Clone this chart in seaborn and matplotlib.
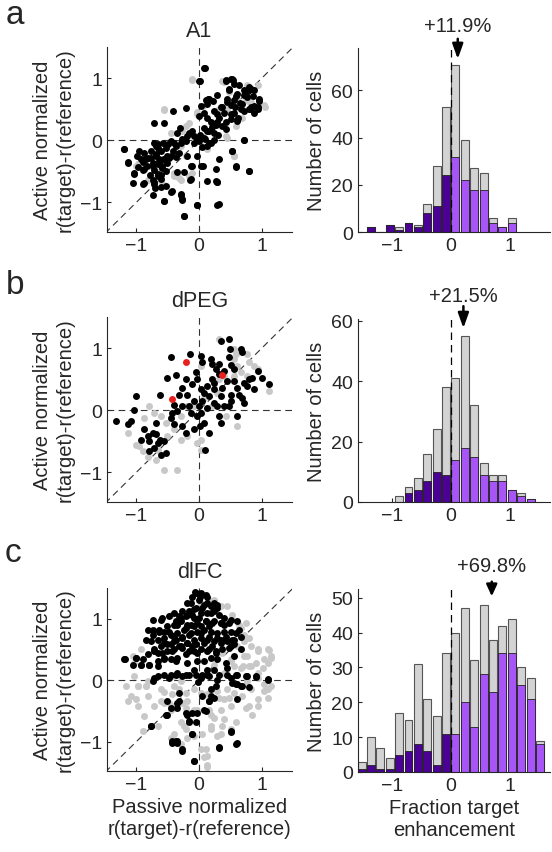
import matplotlib
matplotlib.use('Agg')
import matplotlib.pyplot as plt
import pandas as pd
import seaborn as sns

sns.set_style('ticks')
plt.rcParams['font.family'] = ['Liberation Sans', 'DejaVu Sans']
plt.rcParams['axes.unicode_minus'] = True

# ---- scatter data: (passive, active) pairs ----
a_black_x = [0.09, 0.01, 0.43, 0.52, 0.54, 0.47, 0.64, 0.80, 0.78, 0.59, 0.72, 0.86, 0.14, 0.22, 0.45, 0.36,
             0.51, 0.57, 0.65, 0.94, 0.96, 0.82, 0.87, 0.81, 0.62, 0.72, -0.21, -0.42, -0.56, 0.12, 0.23, 0.29,
             0.39, 0.32, 0.43, 0.37, 0.51, -0.01, 0.13, 0.19, 0.27, 0.07, 0.15, 0.24, 0.02, 0.09, 0.16, 0.24,
             0.30, -0.04, -0.12, -0.19, -0.27, -0.35, -0.30, -0.40, -0.49, -0.57, -0.66, -0.09, 0.04, 0.72,
             0.52, 0.59, 0.80, 0.31, 0.06, -0.12, -0.25, -0.14, 0.12, 0.27, 0.28, -0.29, -0.27, -0.56, -0.04,
             0.31, -0.25, -0.37, -0.45, -0.51, -0.59, -0.61, -0.72, -0.71, -0.45, -0.61, -1.20, -1.14, -1.04,
             -0.99, -0.93, -0.90, -0.84, -0.81, -0.79, -0.74, -0.72, -0.69, -0.66, -0.64, -0.60, -0.56, -0.53,
             -0.77, -0.69, -0.88, -0.96, -0.66, -0.74, -0.51, -0.42, -0.32, -0.19, -0.03, -0.72, -0.88, -1.06,
             0.03, 0.08, 0.51, 0.56, 0.66, 0.88,
             0.08, 0.00, 0.51, 0.43, 0.56, 0.48, 0.61, 0.72, 0.82, 0.88, 0.77, 0.96, 0.93, 0.80, 0.69, 0.56,
             0.45, 0.35, 0.29, 0.16, 0.11, 0.61, 0.43, 0.29, 0.21, 0.13, 0.08, 0.00, 0.19, 0.13, -0.08, -0.16,
             -0.21, -0.29, -0.37, -0.45, -0.53, -0.61, -0.69, -0.77, -0.85, -0.90, -0.98, -0.88, -0.74, -0.64,
             -0.56, -0.48, -0.66, -0.61, -0.72, -0.53, -1.20, -1.14, -1.04, -0.90, -0.74, -0.56, -0.29, -0.27,
             -0.04, 0.29, -0.24, -0.13, 0.03, 0.27, 0.29, 0.59, 0.80, 0.53, 0.72, -0.13, -0.35, -0.43, -0.72,
             -0.66]
a_black_y = [1.16, 0.96, 0.97, 0.99, 0.97, 0.82, 0.88, 0.85, 0.79, 0.71, 0.72, 0.71, 0.67, 0.63, 0.66, 0.54,
             0.56, 0.54, 0.59, 0.50, 0.63, 0.54, 0.44, 0.50, 0.36, 0.47, 0.52, 0.47, 0.27, 0.58, 0.47, 0.42,
             0.44, 0.35, 0.29, 0.23, 0.42, 0.39, 0.36, 0.29, 0.25, 0.20, 0.15, 0.12, 0.09, 0.02, -0.04, 0.01,
             0.08, 0.04, 0.15, 0.06, 0.02, 0.12, 0.20, -0.04, -0.07, -0.05, -0.06, -0.05, -0.11, 0.00,
             -0.18, -0.42, -0.49, -0.30, -0.41, -0.41, -0.52, -0.64, -0.66, -0.66, -0.68, -0.87, -0.95, -0.98,
             -1.05, -1.03, -1.23, -0.27, -0.26, -0.37, -0.45, -0.56, -0.68, -0.77, -0.83, -0.76, -0.15, -0.37,
             -0.53, -0.26, -0.31, -0.48, -0.42, -0.29, -0.56, -0.37, -0.48, -0.25, -0.39, -0.31, -0.42, -0.31,
             -0.50, -0.18, -0.10, -0.21, -0.18, -0.58, -0.64, -0.26, -0.18, -0.21, -0.26, -0.26, 0.27, -0.69,
             -0.69, 0.55, 0.44, 0.34, 0.44, 0.50, 0.55,
             1.16, 0.96, 0.99, 0.96, 0.91, 0.80, 0.75, 0.80, 0.83, 0.80, 0.69, 0.66, 0.53, 0.50, 0.58, 0.64,
             0.61, 0.53, 0.72, 0.66, 0.64, 0.31, 0.18, 0.29, 0.21, 0.15, 0.04, -0.01, -0.04, -0.09, 0.07, 0.12,
             -0.01, -0.04, -0.09, -0.01, -0.12, -0.17, -0.23, -0.28, -0.30, -0.36, -0.44, -0.47, -0.42, -0.36,
             -0.30, -0.28, -0.55, -0.63, -0.71, -0.74, -0.15, -0.36, -0.55, -0.71, -0.88, -0.98, -0.88, -0.96,
             -1.05, -1.04, -1.23, -0.42, -0.42, -0.47, -0.68, -0.44, -0.50, -0.17, 0.01, -0.63, -0.52, -0.82, -0.04,
             -0.12]
a_gray_x = [-0.12, 0.37, 0.93, 1.05, -0.56, 0.06, -0.03, -0.21, -0.27, -0.16, 0.45, 0.56, 0.59, 0.69, 0.78,
            0.13, 0.05, -0.29, -0.40, -0.21, -0.29, -0.40, -0.66, -0.77, -0.96, -1.01, -0.82, -0.61, -0.56,
            -0.16, -0.11, 0.61, 0.74, 0.82, 0.32, 0.48, 0.45,
            -0.11, 0.40, 0.77, 1.04, -0.56, -0.45, -0.03, 0.43, 0.56, 0.61, -0.35, -0.40, -0.32, -0.98, -0.77]
a_gray_y = [0.97, 0.96, 0.89, 0.54, 0.50, 0.55, 0.42, 0.23, 0.15, 0.28, 0.04, -0.26, 0.23, 0.36, 0.63,
            -0.15, -0.10, -0.10, -0.21, -0.26, -0.64, -0.53, -0.50, -0.42, -0.37, -0.42, -0.64, -0.66, -0.72,
            -0.58, -0.53, 0.66, 0.66, 0.61, 0.50, 0.77, 0.50,
            0.98, 0.94, 0.88, 0.56, 0.48, 0.12, 0.45, 0.07, -0.25, 0.34, -0.52, -0.58, -0.61, -0.39, -0.58]

b_black_x = [-1.32, -1.14, -1.09, -1.00, -1.04, -0.88, -0.82, -0.93, -0.80, -0.74, -0.69, -0.66, -0.62, -0.80,
             -0.72, -0.61, -0.53, -0.56, -0.69, -0.62, -0.52, -0.45, -0.37, -0.40, -0.32, -0.27, -0.21, -0.14,
             -0.05, 0.03, 0.05, -0.03, -0.11, -0.19, -0.27, -0.35, -0.43, -0.45, -0.40, -0.27, -0.21, -0.08,
             0.02, 0.08, 0.16, 0.09, -0.03, -0.13, 0.03, 0.13, 0.24, 0.35, 0.35, 0.19, 0.21, 0.27, 0.32, 0.24,
             0.13, 0.08, 0.05, 0.16, 0.35, 0.48, 0.49, 0.66, 0.68, 0.48, 0.51, 0.40, 0.45, 0.56, 0.61, 0.72,
             0.80, 0.85, 0.94, 1.00, 1.12, 0.64, 0.69, 0.51, 0.37, 0.29, 0.40, 0.48, 0.61, 0.32, 0.24, 0.03,
             -0.08, -0.16, 0.00, 0.88, 0.77, 0.56, 0.32, 0.20, 0.51, 0.72]
b_black_y = [-0.17, -0.23, -0.18, 0.22, 0.01, -0.31, -0.42, -0.48, -0.50, -0.37, -0.39, -0.53, -0.48, -0.66,
             -0.61, -0.72, -0.69, -0.50, -0.21, 0.24, 0.52, 0.85, 0.56, 0.09, 0.25, 0.36, 0.50, 0.90,
             0.61, 0.87, 0.77, 0.50, 0.42, 0.25, 0.06, -0.02, -0.04, -0.12, -0.23, -0.26, -0.37, -0.31,
             -0.26, -0.21, -0.37, -0.64, -0.10, -0.04, -0.04, 0.04, 0.12, 0.23, -0.21, 0.82, 0.74, 0.66, 0.58, 0.44,
             0.39, 0.28, 0.15, 0.23, 1.12, 1.15, 0.98, 0.98, 0.93, 0.85, 0.72, 0.63, 0.47, 0.47, 0.36, 0.44,
             0.50, 0.51, 0.63, 0.51, 0.42, 0.25, 0.20, 0.25, 0.36, 0.06, 0.06, 0.06, -0.10, -0.10, 0.34, 0.34,
             0.15, 0.06, 0.06, 0.34, 0.39, 0.66, 0.74, 0.50, 0.15, 0.12]
b_gray_x = [-1.14, -1.01, -0.96, -0.90, -0.82, -0.69, -0.56, -0.36, -0.66, -0.51, -0.40, -0.53, -0.61, -0.72,
            -0.80, -0.88, -0.29, -0.19, 0.03, -0.03, -0.08, -0.19, -0.29, 0.32, 0.56, 0.59, 0.77, 0.80, 0.88,
            0.93, 0.56, 0.61, 0.66, 0.40, 0.32, 0.56, 0.77, 1.12, 0.43, 0.60, 0.21, 0.08, 0.29, 0.03, 0.03]
b_gray_y = [-0.37, -0.56, -0.58, -0.66, -0.75, -0.80, -0.96, -0.96, -0.64, -0.42, -0.31, -0.21, -0.10, -0.04,
            0.06, -0.12, -0.48, -0.42, -0.64, -0.53, 0.06, 0.06, -0.10, 1.14, 0.98, 0.90, 0.90, 0.77, 0.71,
            0.66, 0.82, 0.71, 0.61, 0.55, 0.50, 0.55, 0.55, 0.31, -0.10, -0.26, 0.06, 0.20, 0.28, 0.71, -0.48]
b_red_x = [-0.21, -0.44, 0.37]
b_red_y = [0.78, 0.18, 0.56]

c_black_x = [-0.06, 0.03, -0.11, 0.00, 0.13, -0.19, 0.24, 0.08, -0.05, -0.16, -0.27, -0.40, -0.48, -0.59,
             -0.74, -0.82, -0.73, -0.64, -0.56, -0.51, -0.40, -0.29, -0.21, -0.11, 0.03, 0.13, 0.24, 0.32,
             0.40, 0.51, 0.61, 0.35, 0.24, 0.11, -0.03, -0.13, -0.24, -0.35, -0.45, -0.56, -0.66, -0.77,
             -0.85, -0.61, -0.51, -0.40, -0.27, -0.16, -0.03, 0.08, 0.19, 0.29, 0.40, 0.51, 0.64, 0.66,
             0.56, 0.45, 0.35, 0.24, 0.13, 0.03, -0.08, -0.19, -0.29, -0.40, -0.51, -0.66, -0.72, -0.82,
             -0.90, -1.01, -1.19, -1.06, -0.93, -0.80, -0.66, -0.56, -0.45, -0.35, -0.21, -0.08, 0.03, 0.16,
             0.27, 0.37, 0.51, 0.56, 0.19, 0.08, -0.03, 0.29, -0.19, -0.66, -0.56, -0.45, -0.37, -0.27,
             -0.74, -0.16, -0.05, 0.05, 0.16, 0.32, 0.45, 0.59, 0.74, 0.90, 1.09, 0.53, 0.61, 0.66, 0.61,
             0.24, 0.16, 0.05, 0.08, 0.29, -0.32, -0.35, -0.51, -0.21, -0.11, -0.05, -0.16, -0.77, -0.43,
             -0.37, -0.35, -0.27, -0.12, 0.51, 0.60, 0.32, -0.08, 0.19, -0.02, 0.13, 0.45, 0.56, 0.66, 0.59,
             0.19, 0.29, 0.40, -0.08, -0.19, -0.32, 0.03, 0.16, -0.37, -0.27, -0.11,
             -0.05, 0.02, -0.13, 0.13, 0.11, -0.08, 0.05, 0.19, 0.29, -0.19, -0.29, -0.37, -0.61, 0.00, 0.11,
             0.21, 0.35, 0.48, -0.08, -0.21, -0.35, -0.48, -0.64, -0.74, -0.40, -0.27, -0.13, 0.03, 0.16,
             0.29, 0.43, 0.53, -0.56, -0.45, -0.32, -0.19, -0.05, 0.08, 0.21, 0.35, 0.48, -0.72, -0.59,
             -0.43, -0.16, -0.03, 0.13, 0.27, -1.20, -1.01, -0.93, -0.80, -0.66, -0.56, -0.37, 0.43, -0.72,
             -0.48, -0.35, -0.21, -0.08, 0.03, 0.13, 0.24, 0.51, 0.61, 0.77, 0.90, 1.09, 0.59, 0.69, 0.80,
             0.27, 0.19, 0.16, -0.51, -0.32, -0.45, -0.35, -0.53, -0.19, -0.03, 0.11, -0.16, -0.77, -0.11,
             -0.43, -0.35, -0.27, 0.32, 0.51, 0.59, -0.08]
c_black_y = [1.44, 1.42, 1.36, 1.31, 1.36, 1.25, 1.25, 1.23, 1.17, 1.12, 1.12, 1.09, 1.04, 1.01,
             0.98, 0.82, 0.82, 0.82, 0.79, 0.88, 0.90, 0.96, 1.04, 1.06, 1.09, 1.09, 1.12, 1.06,
             1.01, 0.98, 0.96, 0.93, 0.96, 0.96, 0.93, 0.90, 0.82, 0.77, 0.74, 0.69, 0.66, 0.63,
             0.66, 0.55, 0.58, 0.63, 0.69, 0.74, 0.79, 0.82, 0.79, 0.77, 0.79, 0.79, 0.82, 0.71,
             0.66, 0.63, 0.66, 0.63, 0.66, 0.69, 0.66, 0.61, 0.55, 0.50, 0.47, 0.44, 0.50, 0.42,
             0.34, 0.36, 0.35, 0.25, 0.25, 0.25, 0.31, 0.36, 0.34, 0.36, 0.42, 0.47, 0.50, 0.50,
             0.47, 0.50, 0.55, 0.58, 0.36, 0.31, 0.31, 0.34, 0.28, 0.06, 0.09, 0.08, 0.09, 0.06,
             -0.02, 0.09, 0.09, 0.08, 0.06, 0.09, 0.08, 0.09, 0.06, 0.05, 0.02, -0.04, -0.07, -0.10, -0.31,
             -0.29, -0.34, -0.26, -0.48, 0.01, -0.21, -0.37, -0.56, -0.53, -0.53, -0.69, -0.69, -0.75, -0.99,
             -0.99, -1.02, -1.12, -0.88, -0.83, -1.02, -1.09, -1.31, -0.15, -0.03, 0.17, 0.20, 0.39, 0.50, 0.77,
             1.20, 1.17, 0.90, 1.01, 0.90, 1.04, 0.88, 0.88, 0.66, 0.52, 0.55,
             1.42, 1.36, 1.25, 1.25, 1.39, 1.15, 1.17, 1.09, 1.23, 1.06, 1.01, 0.96, 0.98, 1.01, 0.96,
             0.93, 0.93, 0.93, 0.88, 0.85, 0.90, 0.79, 0.79, 0.74, 0.71, 0.71, 0.77, 0.77, 0.71,
             0.69, 0.71, 0.66, 0.61, 0.58, 0.55, 0.61, 0.58, 0.61, 0.55, 0.61, 0.52, 0.47, 0.44,
             0.47, 0.47, 0.44, 0.47, 0.44, 0.34, 0.36, 0.25, 0.25, 0.23, 0.34, 0.31, 0.28, 0.04,
             0.04, 0.12, 0.09, 0.17, 0.04, 0.09, 0.17, 0.04, 0.09, 0.06, 0.06, 0.01, -0.07, -0.10, -0.12,
             -0.10, -0.26, -0.34, -0.34, -0.34, -0.45, -0.45, -0.56, -0.56, -0.53, -0.50, -0.66, -0.75, -0.88,
             -1.02, -0.99, -1.15, -1.10, -0.85, -1.04, -1.31]
c_gray_x = [0.24, 0.35, 0.53, 0.74, 0.66, 0.80, 0.82, 0.72, 0.93, 1.09, 1.14, 1.04, 0.90, 0.77, 0.80,
            0.66, 0.93, 1.04, 1.09, 0.82, 0.93, 0.80, 0.69, 0.56, 0.51, 0.35, 0.40, 0.24, 0.19, 0.29,
            0.05, 0.11, 0.08, 0.13, 0.03, -0.08, -0.21, -0.29, -0.45, -0.48, -0.61, -0.72, -0.88, -0.90,
            -0.98, -1.09, -1.14, -1.17, -0.98, -0.85, -0.61, -0.40, -0.21, -0.19, -0.08, 0.03, 0.13, 0.29,
            0.40, 0.16, -0.03, -0.29, -0.82, -1.04, -1.06, -0.93, -0.19, -0.40, 0.51, 0.56, 0.77, 0.16, 0.03,
            0.45, 0.64, 0.72, 0.93, 1.12, 1.14, 1.09, 1.01, 0.82, 0.72, 0.70, 0.93, 1.14, 1.04, 1.09, 0.93,
            0.74, 0.85, 0.59, 0.37, 0.19, 0.35, 0.51, 0.13, 0.13, 0.19, 0.32, 0.48, 0.45, 0.40, 0.24, 0.37,
            0.51, 0.61, -0.98, -0.85, -1.01, -0.82, -0.56, -0.43, -0.32, -0.27, -0.40, -0.56, -0.21, -0.16,
            -0.08, -0.24, -0.45, -0.29, -0.66, -0.40, -1.04, -0.45, -0.37, -0.13]
c_gray_y = [1.31, 1.20, 1.06, 0.93, 0.85, 0.69, 0.55, 0.63, 0.50, 0.50, 0.39, 0.34, 0.28, 0.39, 0.23,
            0.20, 0.12, -0.07, -0.15, -0.15, -0.31, -0.42, -0.26, -0.21, -0.42, -0.48, -0.64, -0.61, -0.80, -0.91,
            -0.88, -1.12, -1.26, -1.42, -1.12, -0.91, -0.80, -0.69, -0.48, -0.37, -0.34, -0.42, -0.58, -0.83,
            -0.42, -0.26, -0.34, -0.10, -0.10, -0.10, -0.15, -0.10, -0.21, -0.34, -0.15, -0.21, -0.23, -0.18,
            -0.31, -0.48, -0.48, -0.02, -0.02, 0.06, 0.39, 0.50, -0.94, -0.88, 0.34, 0.23, -0.02, 1.31, 1.25,
            1.20, 0.90, 0.74, 0.47, 0.49, 0.36, 0.28, 0.20, 0.23, 0.39, 0.23, 0.04, -0.10, -0.18, -0.29, -0.42,
            -0.45, -0.56, -0.69, -0.75, -0.75, -0.88, -0.80, -1.23, -1.39, -0.56, -0.29, -0.29, -0.15, 0.12,
            0.25, 0.44, 0.31, 0.55, -0.10, -0.10, -0.31, -0.26, -0.20, -0.23, -0.15, -0.37, -0.42, -0.37,
            -0.45, -0.53, -0.48, -0.75, -0.94, -1.04, -0.75, 0.06, 0.28, 1.06, 0.96, 0.77]

# ---- histogram data: bin index k (bin centre = (k + 0.5) * width) ----
bin_w = 0.16
a_bins = list(range(-9, 7))
a_colored = [2, 0, 3, 1, 4, 2, 8, 11, 24, 32, 22, 18, 18, 4, 2, 4]
a_total = [2, 0, 3, 2, 4, 3, 12, 28, 53, 71, 39, 27, 25, 6, 2, 6]
b_bins = list(range(-6, 9))
b_colored = [0, 3, 4, 7, 10, 9, 14, 18, 15, 9, 7, 7, 4, 2, 1]
b_total = [2, 5, 8, 16, 24, 38, 41, 55, 32, 13, 9, 9, 4, 3, 1]
c_bins = list(range(-10, 10))
c_colored = [1, 2, 1, 1, 5, 6, 8, 6, 2, 11, 11, 20, 13, 28, 23, 34, 34, 25, 21, 8]
c_total = [3, 10, 7, 4, 17, 15, 31, 21, 16, 34, 40, 47, 32, 48, 38, 42, 44, 30, 27, 9]

regions = ['A1', 'dPEG', 'dlFC']
letters = ['a', 'b', 'c']
enhancement = [11.9, 21.5, 69.8]
hist_ylim = [78, 60.5, 52.5]
hist_yticks = [[0, 20, 40, 60], [0, 20, 40, 60], [0, 10, 20, 30, 40, 50]]

dark_purple = '#4B0096'
light_purple = '#A855F7'
bar_gray = '#D3D3D3'

fig = plt.figure(figsize=(5.52, 8.53), dpi=100)
W, H = 552.0, 853.0
# axes boxes in pixels: (left, top, right, bottom)
scatter_boxes = [(107, 48, 292, 233), (107, 318, 292, 503), (107, 589, 292, 772)]
hist_boxes = [(358, 49, 550, 233), (358, 320, 550, 503), (358, 590, 550, 773)]
letter_pos = [(15, 15), (15, 285), (13, 554)]


def box(b):
    l, t, r, bt = b
    return [l / W, 1 - bt / H, (r - l) / W, (bt - t) / H]


scatter_data = [
    (a_black_x, a_black_y, a_gray_x, a_gray_y, None, None),
    (b_black_x, b_black_y, b_gray_x, b_gray_y, b_red_x, b_red_y),
    (c_black_x, c_black_y, c_gray_x, c_gray_y, None, None),
]
hist_data = [(a_bins, a_colored, a_total), (b_bins, b_colored, b_total), (c_bins, c_colored, c_total)]
dash = (0, (6, 4))

for i in range(3):
    # Scatter panel
    ax = fig.add_axes(box(scatter_boxes[i]))
    bx, by, gx, gy, rx, ry = scatter_data[i]
    ax.axhline(0, color='#333333', ls=dash, lw=0.8, zorder=1)
    ax.axvline(0, color='#333333', ls=dash, lw=0.8, zorder=1)
    ax.plot([-1.5, 1.5], [-1.5, 1.5], color='#333333', ls=dash, lw=0.8, zorder=1)
    sns.scatterplot(x=gx, y=gy, color='#C8C8C8', s=25, linewidth=0, ax=ax, zorder=2)
    sns.scatterplot(x=bx, y=by, color='black', s=25, linewidth=0, ax=ax, zorder=3)
    if rx is not None:
        sns.scatterplot(x=rx, y=ry, color='#E8201E', s=25, linewidth=0, ax=ax, zorder=4)
    ax.set_xlim(-1.47, 1.48)
    ax.set_ylim(-1.48, 1.5)
    ax.set_xticks([-1, 0, 1])
    ax.set_yticks([-1, 0, 1])
    ax.tick_params(direction='in', labelsize=14, length=3)
    sns.despine(ax=ax)
    ax.set_title(regions[i], fontsize=15.5, pad=8)
    ax.set_ylabel('Active normalized\nr(target)-r(reference)', fontsize=14.5, labelpad=4)
    if i == 2:
        ax.set_xlabel('Passive normalized\nr(target)-r(reference)', fontsize=14.5, labelpad=3)
    lx, ly = letter_pos[i]
    fig.text(lx / W, 1 - ly / H, letters[i], fontsize=24, ha='center', va='center')

    # Histogram panel
    hx = fig.add_axes(box(hist_boxes[i]))
    ks, colored, total = hist_data[i]
    df = pd.DataFrame({'center': [(k + 0.5) * bin_w for k in ks], 'colored': colored, 'total': total})
    sns.barplot(data=df, x='center', y='total', native_scale=True, width=0.85, color=bar_gray,
                saturation=1, edgecolor='#555555', linewidth=0.8, errorbar=None, ax=hx)
    neg = df[df['center'] < 0]
    pos = df[df['center'] > 0]
    sns.barplot(data=neg, x='center', y='colored', native_scale=True, width=0.85, color=dark_purple,
                saturation=1, edgecolor='#222222', linewidth=0.6, errorbar=None, ax=hx)
    sns.barplot(data=pos, x='center', y='colored', native_scale=True, width=0.85, color=light_purple,
                saturation=1, edgecolor='#222222', linewidth=0.6, errorbar=None, ax=hx)
    hx.axvline(0, color='black', ls=dash, lw=0.9, zorder=5)
    hx.set_xlim(-1.58, 1.69)
    hx.set_ylim(0, hist_ylim[i])
    hx.set_xticks([-1, 0, 1])
    hx.set_xticklabels(['\u22121', '0', '1'])
    hx.set_yticks(hist_yticks[i])
    hx.tick_params(direction='in', labelsize=14, length=3)
    sns.despine(ax=hx)
    hx.set_ylabel('Number of cells', fontsize=14.5, labelpad=4)
    if i == 2:
        hx.set_xlabel('Fraction target\nenhancement', fontsize=14.5, labelpad=3)
    else:
        hx.set_xlabel('')
    mx = enhancement[i] / 100
    tip = [0.94, 0.95, 0.96][i]
    tail = [1.05, 1.07, 1.04][i]
    head_len = [0.9, 0.9, 0.7][i]
    hx.annotate('', xy=(mx, tip), xycoords=('data', 'axes fraction'),
                xytext=(mx, tail), textcoords=('data', 'axes fraction'),
                arrowprops=dict(arrowstyle='-|>,head_width=0.32,head_length=%.2f' % head_len,
                                color='black', lw=1.8, shrinkA=0, shrinkB=0))
    hx.text(mx, [1.12, 1.13, 1.13][i], '+%.1f%%' % enhancement[i], transform=hx.get_xaxis_transform(),
            ha='center', va='center', fontsize=14.5)

fig.savefig('out.png', dpi=100)
